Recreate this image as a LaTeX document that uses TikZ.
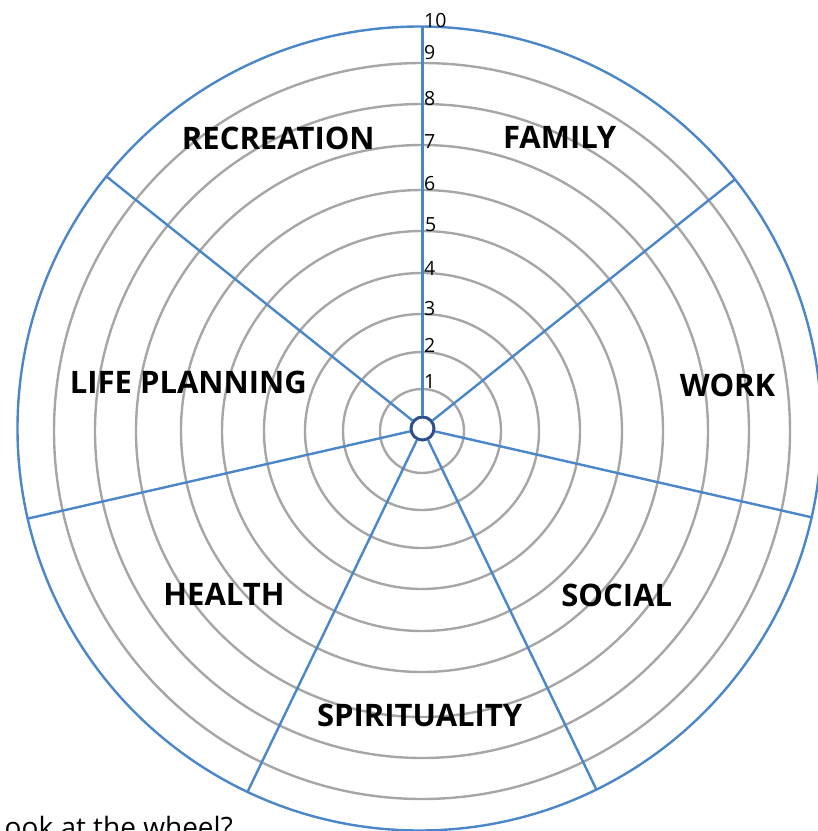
\documentclass[tikz,border=0pt]{standalone}
\usepackage{fontspec}
\setmainfont{Open Sans}
\usetikzlibrary{calc}
\definecolor{spokeblue}{HTML}{4A86C8}
\definecolor{ringgray}{HTML}{A6A6A6}
\definecolor{hubblue}{HTML}{2F4E8C}
\begin{document}
\begin{tikzpicture}[x=1pt,y=-1pt,
  spoke/.style={draw=spokeblue, line width=2.4pt},
  rim/.style={draw=spokeblue, line width=2.4pt},
  ring/.style={draw=ringgray, line width=2.4pt},
  cat/.style={font=\fontsize{31}{31}\selectfont\bfseries, anchor=base, inner sep=0pt},
  tick/.style={font=\fontsize{19.5}{19.5}\selectfont, anchor=base west, inner sep=0pt},
  foot/.style={font=\fontsize{28}{28}\selectfont, anchor=base east, inner sep=0pt}]
\useasboundingbox (0,0) rectangle (818,831);
\coordinate (rc) at (422,431);
\coordinate (oc) at (419.5,428.5);
% rings
\foreach \r in {42,79,117,158,200,241,286,327,368}
  \draw[ring] (rc) circle[radius=\r pt];
% rim
\draw[rim] (oc) circle[radius=402pt];
% hub
\node[circle, draw=hubblue, fill=white, line width=3pt, minimum size=23pt, inner sep=0pt] (hub) at (422.5,428.5) {};
% spokes
\foreach \a [count=\i] in {90,38.571,-12.857,-64.286,-115.714,-167.143,141.429}{
  \pgfmathsetmacro\len{402-3*cos(\a)}
  \coordinate (sp\i) at ($(hub.center)+(\a:\len pt)$);
  \draw[spoke] (hub) -- (sp\i);
}
% scale numbers
\node[tick] (t1) at (424,388) {1};
\node[tick] (t2) at (424,352) {2};
\node[tick] (t3) at (424,315) {3};
\node[tick] (t4) at (424,275) {4};
\node[tick] (t5) at (425,231) {5};
\node[tick] (t6) at (424,190) {6};
\node[tick] (t7) at (424,148) {7};
\node[tick] (t8) at (424,105) {8};
\node[tick] (t9) at (424,59) {9};
\node[tick] (t10) at (424,27) {10};
% categories
\node[cat] (family) at (559.7,148.3) {FAMILY};
\node[cat] (work) at (727.5,396.7) {WORK};
\node[cat] (social) at (616.7,606.7) {SOCIAL};
\node[cat] (spirit) at (419.7,726.7) {SPIRITUALITY};
\node[cat] (health) at (224,605.7) {HEALTH};
\node[cat] (life) at (188.3,393.3) {LIFE PLANNING};
\node[cat] (recr) at (278.3,149.3) {RECREATION};
% footer text (clipped at the bottom edge, as in the reference)
\node[foot] (foot) at (233,837) {ook at the wheel?};
\end{tikzpicture}
\end{document}
